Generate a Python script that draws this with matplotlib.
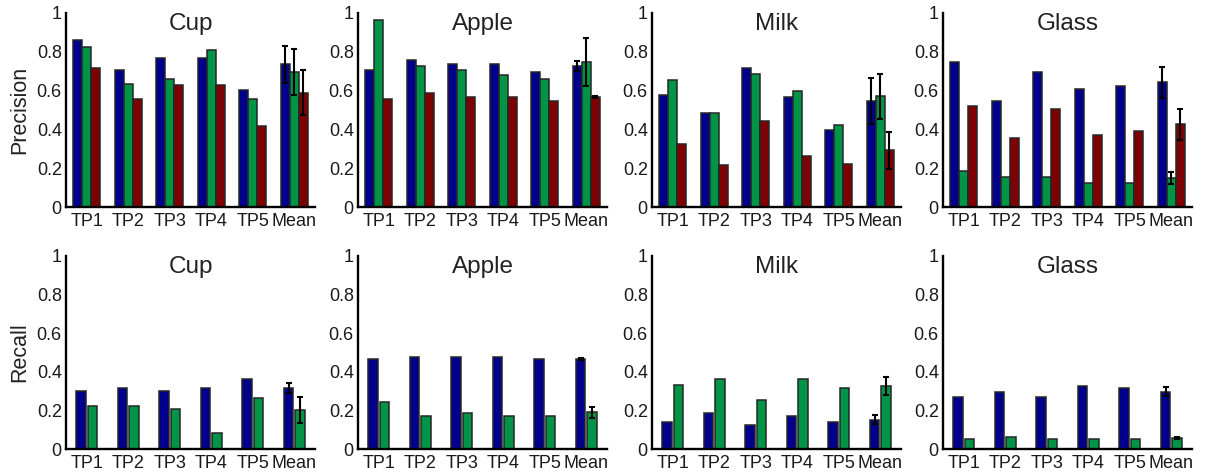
import numpy as np
import matplotlib
matplotlib.use('Agg')
import matplotlib.pyplot as plt

plt.rcParams['font.family'] = ['Liberation Sans', 'DejaVu Sans']

objects = ['Cup', 'Apple', 'Milk', 'Glass']
groups = ['TP1', 'TP2', 'TP3', 'TP4', 'TP5', 'Mean']

# precision: three series per object (blue, green, red), last entry is the mean
prec_blue = {
    'Cup':   [0.862, 0.707, 0.769, 0.769, 0.605, 0.736],
    'Apple': [0.707, 0.759, 0.738, 0.738, 0.698, 0.728],
    'Milk':  [0.578, 0.486, 0.717, 0.567, 0.397, 0.547],
    'Glass': [0.748, 0.544, 0.694, 0.610, 0.624, 0.643],
}
prec_green = {
    'Cup':   [0.826, 0.636, 0.659, 0.807, 0.559, 0.695],
    'Apple': [0.962, 0.728, 0.707, 0.678, 0.659, 0.747],
    'Milk':  [0.657, 0.486, 0.686, 0.598, 0.424, 0.571],
    'Glass': [0.186, 0.157, 0.157, 0.123, 0.123, 0.148],
}
prec_red = {
    'Cup':   [0.717, 0.559, 0.628, 0.628, 0.416, 0.590],
    'Apple': [0.559, 0.586, 0.569, 0.569, 0.548, 0.566],
    'Milk':  [0.324, 0.214, 0.443, 0.264, 0.224, 0.293],
    'Glass': [0.520, 0.358, 0.503, 0.370, 0.393, 0.426],
}
# error on the mean bar (blue, green, red)
prec_err = {
    'Cup':   [0.095, 0.118, 0.114],
    'Apple': [0.025, 0.125, 0.005],
    'Milk':  [0.120, 0.115, 0.096],
    'Glass': [0.080, 0.030, 0.079],
}

# recall: two series per object (blue, green)
rec_blue = {
    'Cup':   [0.303, 0.315, 0.303, 0.315, 0.361, 0.316],
    'Apple': [0.465, 0.477, 0.477, 0.477, 0.465, 0.466],
    'Milk':  [0.141, 0.184, 0.122, 0.172, 0.141, 0.151],
    'Glass': [0.271, 0.294, 0.271, 0.326, 0.316, 0.297],
}
rec_green = {
    'Cup':   [0.222, 0.222, 0.205, 0.081, 0.262, 0.202],
    'Apple': [0.244, 0.172, 0.184, 0.172, 0.172, 0.191],
    'Milk':  [0.334, 0.361, 0.255, 0.361, 0.315, 0.325],
    'Glass': [0.050, 0.060, 0.050, 0.050, 0.050, 0.056],
}
rec_err = {
    'Cup':   [0.026, 0.065],
    'Apple': [0.005, 0.028],
    'Milk':  [0.024, 0.047],
    'Glass': [0.022, 0.004],
}

BLUE = '#00008c'
GREEN = '#009447'
RED = '#7f0000'
EDGE = '#262626'

W, H = 1207, 475
fig = plt.figure(figsize=(W / 100, H / 100), dpi=100)

lefts = [66, 358, 652, 943]
axw = 249
rows = [(13, 207), (256, 449)]


def style(ax, name, ylabel=None):
    ax.set_xlim(0.5, 6.5)
    ax.set_ylim(0, 1)
    ax.set_yticks([0, 0.2, 0.4, 0.6, 0.8, 1])
    ax.set_yticklabels(['0', '0.2', '0.4', '0.6', '0.8', '1'])
    ax.set_xticks(np.arange(1, 7))
    ax.set_xticklabels(groups)
    ax.tick_params(length=0, labelsize=13, colors='#1a1a1a')
    ax.tick_params(axis='x', pad=4)
    ax.tick_params(axis='y', pad=3)
    for s in ['top', 'right']:
        ax.spines[s].set_visible(False)
    for s in ['left', 'bottom']:
        ax.spines[s].set_linewidth(1.7)
    ax.text(0.5, 1.0, name, transform=ax.transAxes, ha='center', va='top',
            fontsize=17.5, color='#222222')
    if ylabel:
        ax.set_ylabel(ylabel, fontsize=15.5, labelpad=5, color='#222222')


x = np.arange(1, 7)
ekw = dict(ecolor='black', elinewidth=1.5, capsize=2.5, capthick=1.5)

for i, name in enumerate(objects):
    # top row: precision
    top, bot = rows[0]
    ax = fig.add_axes([lefts[i] / W, 1 - bot / H, axw / W, (bot - top) / H])
    bw = 0.215
    series = [(prec_blue, BLUE), (prec_green, GREEN), (prec_red, RED)]
    for k, (d, c) in enumerate(series):
        xs = x + (k - 1) * bw
        ax.bar(xs, d[name], bw, color=c, edgecolor=EDGE, linewidth=1.1, zorder=2)
        ax.errorbar(xs[-1], d[name][-1], yerr=prec_err[name][k], fmt='none',
                    zorder=3, **ekw)
    style(ax, name, 'Precision' if i == 0 else None)

    # bottom row: recall
    top, bot = rows[1]
    ax = fig.add_axes([lefts[i] / W, 1 - bot / H, axw / W, (bot - top) / H])
    bw = 0.225
    series = [(rec_blue, BLUE), (rec_green, GREEN)]
    for k, (d, c) in enumerate(series):
        xs = x + (k - 0.5) * 0.275
        ax.bar(xs, d[name], bw, color=c, edgecolor=EDGE, linewidth=1.1, zorder=2)
        ax.errorbar(xs[-1], d[name][-1], yerr=rec_err[name][k], fmt='none',
                    zorder=3, **ekw)
    style(ax, name, 'Recall' if i == 0 else None)

fig.savefig('out.png', dpi=100)
